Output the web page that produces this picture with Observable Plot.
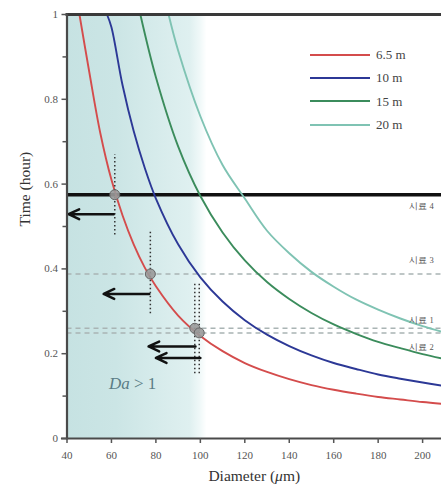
<!DOCTYPE html>
<html><head><meta charset="utf-8">
<script src="https://cdn.jsdelivr.net/npm/d3@7"></script>
<script src="https://cdn.jsdelivr.net/npm/@observablehq/plot@0.6"></script>
<style>
body{margin:0;background:#fff;}
#wrap{position:relative;width:441px;height:495px;font-family:"Liberation Serif","Times New Roman",serif;}
#wrap svg text{font-family:"Liberation Serif","Times New Roman",serif;}
#wrap svg text.kr{font-family:"Noto Sans CJK KR",sans-serif;}
#legend{position:absolute;left:310px;top:43px;font-size:13px;color:#444;line-height:23.3px;font-family:"Liberation Serif","Times New Roman",serif;}
#legend .row{display:flex;align-items:center;white-space:nowrap;}
#legend .sw{display:inline-block;width:60px;height:2px;margin-right:6px;}
</style></head><body><div id="wrap"></div>
<script>
// ---- data ----
const seriesNames = ["6.5 m", "10 m", "15 m", "20 m"];
const seriesColors = ["#d44c4c", "#2c3896", "#3b8c5c", "#7fc3b3"];

const dRed  = [45.6, 50, 55, 60, 65, 70, 75, 80, 90, 100, 110, 120, 130, 140, 150, 160, 170, 180, 190, 200, 208.5];
const tRed  = [1.0, 0.865, 0.72, 0.61, 0.526, 0.458, 0.403, 0.359, 0.29, 0.242, 0.206, 0.178, 0.157, 0.14, 0.126, 0.115, 0.106, 0.098, 0.092, 0.086, 0.082];
const dBlue = [58, 60, 65, 70, 75, 80, 90, 100, 110, 120, 130, 140, 150, 160, 170, 180, 190, 200, 208.5];
const tBlue = [1.0, 0.97, 0.833, 0.725, 0.638, 0.566, 0.458, 0.38, 0.323, 0.279, 0.245, 0.218, 0.196, 0.178, 0.164, 0.151, 0.141, 0.132, 0.125];
const dGreen = [73, 80, 90, 100, 110, 120, 130, 140, 150, 160, 170, 180, 190, 200, 208.5];
const tGreen = [1.0, 0.852, 0.689, 0.572, 0.486, 0.42, 0.369, 0.329, 0.296, 0.269, 0.247, 0.228, 0.213, 0.199, 0.189];
const dTeal = [85.7, 90, 100, 110, 120, 130, 140, 150, 160, 170, 180, 190, 200, 208.5];
const tTeal = [1.0, 0.915, 0.76, 0.645, 0.566, 0.49, 0.437, 0.393, 0.358, 0.328, 0.304, 0.283, 0.265, 0.252];

const samples = ["시료 4", "시료 3", "시료 1", "시료 2"];
const sampleTime = [0.575, 0.388, 0.26, 0.249];
const sampleDiameter = [61.5, 77.5, 97.5, 99.5];
const dotLow  = [0.48, 0.294, 0.153, 0.153];
const dotHigh = [0.67, 0.49, 0.365, 0.365];
const arrowTime = [0.529, 0.341, 0.217, 0.19];
const arrowStart = [61, 77, 97.8, 100];
const arrowEnd = [40.7, 56.5, 76.7, 80];
const labelTime = [0.548, 0.42, 0.28, 0.214];
const labelDiameter = 205;

const xTicks = [40, 60, 80, 100, 120, 140, 160, 180, 200];
const yTicks = [0, 0.2, 0.4, 0.6, 0.8, 1];
const yMinor = [0.1, 0.3, 0.5, 0.7, 0.9];
const xDomain = [40, 208.5];
const yDomain = [0, 1];
const shadeRange = [40, 103];
const daLabel = {d: 69.5, t: 0.13};

// ---- build tables ----
const curves = [
  ...dRed.map((d, i) => ({d, t: tRed[i], s: seriesNames[0]})),
  ...dBlue.map((d, i) => ({d, t: tBlue[i], s: seriesNames[1]})),
  ...dGreen.map((d, i) => ({d, t: tGreen[i], s: seriesNames[2]})),
  ...dTeal.map((d, i) => ({d, t: tTeal[i], s: seriesNames[3]}))
];
const sampleRows = samples.map((name, i) => ({
  name, t: sampleTime[i], d: sampleDiameter[i], lo: dotLow[i], hi: dotHigh[i],
  at: arrowTime[i], a1: arrowStart[i], a2: arrowEnd[i], lt: labelTime[i]
}));

const font = "Liberation Serif, Times New Roman, serif";

const plot = Plot.plot({
  width: 441, height: 495,
  marginLeft: 66.5, marginRight: 0, marginTop: 14, marginBottom: 57,
  style: {fontFamily: font, background: "white", overflow: "visible"},
  x: {domain: xDomain},
  y: {domain: yDomain},
  color: {domain: seriesNames, range: seriesColors},
  marks: [
    Plot.rect([shadeRange], {x1: d => d[0], x2: d => d[1], y1: yDomain[0], y2: yDomain[1], fill: "url(#shade)"}),
    // sample horizontal lines
    Plot.ruleY(sampleRows.slice(0, 1), {y: "t", stroke: "#111", strokeWidth: 3.5}),
    Plot.ruleY(sampleRows.slice(1), {y: "t", stroke: "#a9b4b4", strokeWidth: 1.5, strokeDasharray: "5,4"}),
    // curves
    Plot.line(curves, {x: "d", y: "t", z: "s", stroke: "s", strokeWidth: 1.9, curve: "catmull-rom"}),
    // dotted verticals
    Plot.ruleX(sampleRows, {x: "d", y1: "lo", y2: "hi", stroke: "#333", strokeWidth: 1.5, strokeDasharray: "1.5,2.5"}),
    // markers
    Plot.dot(sampleRows, {x: "d", y: "t", r: 5, fill: "#9a9a9a", stroke: "#666", strokeWidth: 1, fillOpacity: 0.9}),
    // arrows
    Plot.arrow(sampleRows, {x1: "a1", y1: "at", x2: "a2", y2: "at", stroke: "#111", strokeWidth: 2.5, headLength: 7, headAngle: 50}),
    // sample labels
    Plot.text(sampleRows, {x: labelDiameter, y: "lt", text: "name", textAnchor: "end", fontSize: 8.5, fill: "#555", className: "kr"}),
    // Da > 1
    Plot.text([daLabel], {x: "d", y: "t", text: () => "DA_LABEL", fontSize: 17, fill: "#5b7d86"}),
    // frame lines
    Plot.frame({anchor: "top", stroke: "#3a3a3a", strokeWidth: 3}),
    Plot.frame({anchor: "left", stroke: "#4a4a4a", strokeWidth: 2.2}),
    Plot.ruleY([yDomain[0]], {x1: xDomain[0] - 2.5, x2: xDomain[1], stroke: "#4a4a4a", strokeWidth: 2.2}),
    // axes
    Plot.axisY(yTicks, {tickSize: 5, tickPadding: 4, fontSize: 11, fontFamily: font, color: "#555", strokeWidth: 1.5, label: null,
      tickFormat: d => (d === 0 || d === 1) ? String(d) : d.toFixed(1)}),
    Plot.axisY(yMinor, {tickSize: 4, text: null, label: null, color: "#555", strokeWidth: 1.5}),
    Plot.axisX(xTicks, {tickSize: 5, tickPadding: 8, fontSize: 11, fontFamily: font, color: "#555", strokeWidth: 1.5, label: null}),
    Plot.text(["Time (hour)"], {frameAnchor: "left", dx: -42, rotate: -90, fontSize: 15.5, fill: "#333"}),
    Plot.text(["X_LABEL"], {frameAnchor: "bottom", dy: 42, fontSize: 15.5, fill: "#333"})
  ]
});

// gradient for shaded region
const svg = d3.select(plot);
const defs = svg.insert("defs", ":first-child");
const g = defs.append("linearGradient").attr("id", "shade").attr("x1", "0").attr("x2", "1").attr("y1", "0").attr("y2", "0");
[["0", "#c6e2e2"], ["0.35", "#cbe5e5"], ["0.58", "#d4eaea"], ["0.88", "#dff0f0"], ["0.95", "#eff8f8"], ["1", "#ffffff"]]
  .forEach(([o, c]) => g.append("stop").attr("offset", o).attr("stop-color", c));

// rich text labels
svg.selectAll("text").each(function() {
  const t = d3.select(this);
  if (t.text() === "DA_LABEL") {
    t.text(null);
    t.append("tspan").attr("font-style", "italic").text("Da");
    t.append("tspan").text(" > 1");
  } else if (t.text() === "X_LABEL") {
    t.text(null);
    t.append("tspan").text("Diameter (");
    t.append("tspan").attr("font-style", "italic").text("μ");
    t.append("tspan").text("m)");
  }
});

const wrap = document.getElementById("wrap");
wrap.appendChild(plot);

// legend
const legend = document.createElement("div");
legend.id = "legend";
seriesNames.forEach((n, i) => {
  const row = document.createElement("div");
  row.className = "row";
  const sw = document.createElement("span");
  sw.className = "sw";
  sw.style.background = seriesColors[i];
  row.appendChild(sw);
  row.appendChild(document.createTextNode(n));
  legend.appendChild(row);
});
wrap.appendChild(legend);
</script>
</body></html>
